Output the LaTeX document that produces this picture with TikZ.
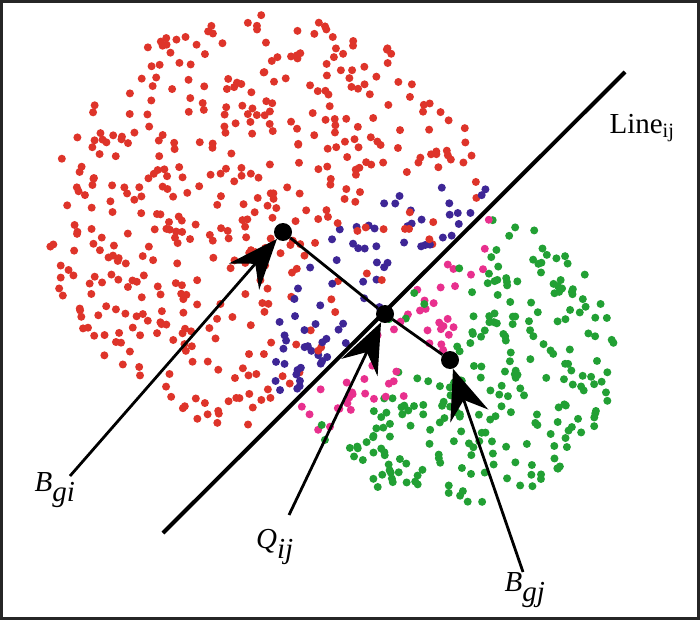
\documentclass[tikz,border=0pt]{standalone}
\usepackage{fontspec}
\setmainfont{Liberation Serif}
\usepackage{tikz}
\usetikzlibrary{arrows.meta, positioning}

\definecolor{dotred}{RGB}{222,52,42}
\definecolor{dotgreen}{RGB}{34,160,52}
\definecolor{dotblue}{RGB}{62,38,150}
\definecolor{dotpink}{RGB}{232,48,142}

\begin{document}
\begin{tikzpicture}[x=1pt, y=-1pt,
    every node/.style={inner sep=0pt},
    centre/.style={circle, fill=black, minimum size=18pt},
    lbl/.style={font=\fontsize{29}{33}\selectfont},
    pointer/.style={line width=2.8pt, -{Stealth[length=50pt, width=40pt, inset=17pt]}}]
            \useasboundingbox (0,0) rectangle (700,620);
            \pgfmathsetseed{11}

            % red cluster (blue where it meets the green one)
            \foreach \k in {1,...,580} {
                \pgfmathsetmacro\rr{sqrt(rnd)}
                \pgfmathsetmacro\aa{360*rnd}
                \pgfmathsetmacro\px{268+222*\rr*cos(\aa)}
                \pgfmathsetmacro\py{222+208*\rr*sin(\aa)}
                \pgfmathtruncatemacro\keep{(\px+\py<690) ? 1 : 0}
                \pgfmathtruncatemacro\isblue{((veclen(\px-452,\py-358)<178) && (rnd>0.2)) ? 1 : 0}
                \ifnum\keep=1
                    \ifnum\isblue=1
                        \fill[dotblue] (\px,\py) circle (4);
                    \else
                        \fill[dotred] (\px,\py) circle (4);
                    \fi
                \fi
            }

            % green cluster (pink where it meets the red one)
            \foreach \k in {1,...,380} {
                \pgfmathsetmacro\rr{sqrt(rnd)}
                \pgfmathsetmacro\aa{360*rnd}
                \pgfmathsetmacro\px{452+163*\rr*cos(\aa)}
                \pgfmathsetmacro\py{358+148*\rr*sin(\aa)}
                \pgfmathtruncatemacro\keep{(\px+\py>706) ? 1 : 0}
                \pgfmathtruncatemacro\ispink{((veclen(\px-268,\py-222)<222) && (rnd>0.3)) ? 1 : 0}
                \ifnum\keep=1
                    \ifnum\ispink=1
                        \fill[dotpink] (\px,\py) circle (4);
                    \else
                        \fill[dotgreen] (\px,\py) circle (4);
                    \fi
                \fi
            }

            % Nodes
            \node[centre] (bgi) at (283,232) {};
            \node[centre] (qij) at (385,314) {};
            \node[centre] (bgj) at (450,360) {};

            \node[lbl] (lgi) at (55,490) {$\textit{B}_{\textit{gi}}$};
            \node[lbl] (lqij) at (275,547) {$\textit{Q}_{\textit{ij}}$};
            \node[lbl] (lgj) at (525,590) {$\textit{B}_{\textit{gj}}$};
            \node[lbl] (lline) at (642,128) {Line\textsubscript{ij}};

            \coordinate (l1) at (163,533);
            \coordinate (l2) at (625,72);
            \coordinate (tgi) at (70,476);
            \coordinate (tqij) at (289,515);
            \coordinate (tgj) at (523,572);

            % Edges
            \draw[line width=4pt] (l1) -- (l2);
            \draw[line width=2.8pt] (bgi) -- (qij) -- (bgj);
            \draw[pointer] (tgi) -- (bgi);
            \draw[pointer] (tqij) -- (qij);
            \draw[pointer] (tgj) -- (bgj);

            % frame
            \draw[line width=2.5pt, black!85] (1.5,1.5) rectangle (698.5,618.5);
        \end{tikzpicture}
\end{document}
